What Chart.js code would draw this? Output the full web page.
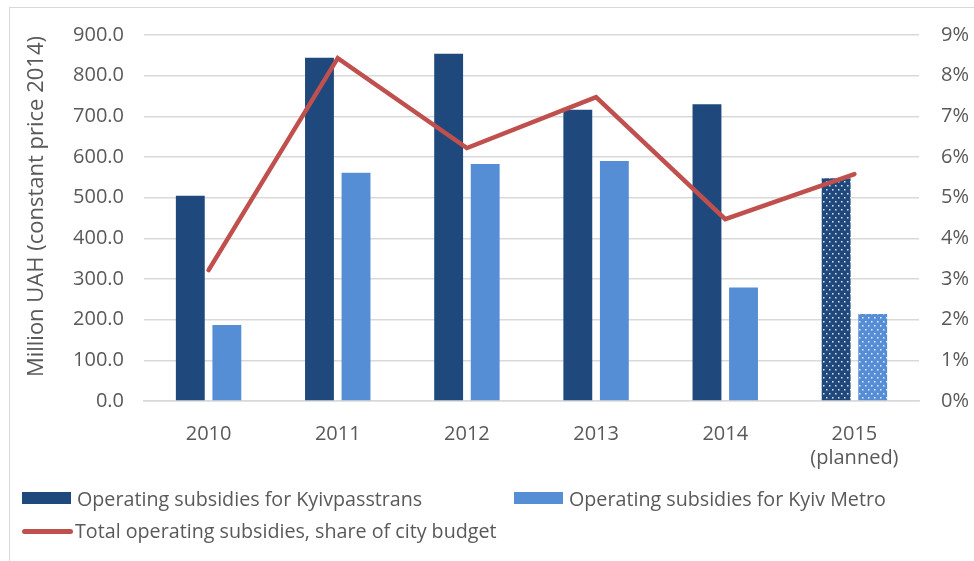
<!DOCTYPE html>
<html lang="en">

<head>
    <meta charset="UTF-8">
    <title>Kyiv operating subsidies</title>
    <style>
        html, body { margin: 0; padding: 0; background: #fff; overflow: hidden; }
        #wrap { position: relative; width: 974px; height: 561px; font-family: "Open Sans", sans-serif; color: #595959; }
        #frame { position: absolute; left: 9px; top: 7px; width: 1100px; height: 700px; border: 1.5px solid #d9d9d9; }
        #chartBox { position: absolute; left: 0; top: 0; width: 974px; height: 561px; }
        .lg { position: absolute; font-size: 19.7px; line-height: 24px; white-space: nowrap; }
        .sw { position: absolute; }
    </style>
</head>

<body>
    <div id="wrap">
        <div id="frame"></div>
        <div id="chartBox"><canvas id="chart"></canvas></div>
        <div id="legend"></div>
    </div>

<script src="https://cdn.jsdelivr.net/npm/chart.js@4/dist/chart.umd.min.js"></script>

<script>
    // data
    const years = ['2010', '2011', '2012', '2013', '2014', ['2015', '(planned)']];
    const kyivpasstrans = [505, 844, 854, 716, 730, 548];
    const kyivMetro = [187, 561, 583, 590, 279, 214];
    const budgetShare = [3.22, 8.43, 6.22, 7.47, 4.47, 5.58];   // %
    const leftTicks = { min: 0, max: 900, step: 100 };
    const rightTicks = { min: 0, max: 9, step: 1 };

    const NAVY = '#1f497d';
    const BLUE = '#558ed5';
    const RED = '#c0504d';
    const GREY_TXT = '#595959';
    const GRID = '#d9d9d9';

    // dotted fill for the planned year
    function dots(color) {
        const c = document.createElement('canvas');
        c.width = 6; c.height = 8;
        const g = c.getContext('2d');
        g.fillStyle = color;
        g.fillRect(0, 0, 6, 8);
        g.fillStyle = 'rgba(255,255,255,0.85)';
        g.fillRect(1, 1, 1.5, 1.5);
        g.fillRect(4, 5, 1.5, 1.5);
        return g.createPattern(c, 'repeat');
    }
    function fills(color) {
        return years.map((y, i) => i === years.length - 1 ? dots(color) : color);
    }

    const font = { family: '"Open Sans", sans-serif', size: 20 };

    let ctx = document.getElementById('chart');
    let data = {
        labels: years,
        datasets: [{
            type: 'line',
            label: 'Total operating subsidies, share of city budget',
            data: budgetShare,
            yAxisID: 'y1',
            borderColor: RED,
            backgroundColor: RED,
            borderWidth: 4.5,
            borderCapStyle: 'round',
            borderJoinStyle: 'miter',
            pointRadius: 0,
            tension: 0,
            order: 0
        }, {
            type: 'bar',
            label: 'Operating subsidies for Kyivpasstrans',
            data: kyivpasstrans,
            yAxisID: 'y',
            backgroundColor: fills(NAVY),
            categoryPercentage: 0.566,
            barPercentage: 0.79,
            order: 1
        }, {
            type: 'bar',
            label: 'Operating subsidies for Kyiv Metro',
            data: kyivMetro,
            yAxisID: 'y',
            backgroundColor: fills(BLUE),
            categoryPercentage: 0.566,
            barPercentage: 0.79,
            order: 2
        }]
    };

    var config = {
        data: data,
        options: {
            responsive: true,
            maintainAspectRatio: false,
            animation: false,
            layout: { padding: { top: 35, bottom: 80, left: 0, right: 0 } },
            plugins: { legend: { display: false }, tooltip: { enabled: false } },
            scales: {
                x: {
                    grid: { display: false },
                    border: { color: GRID, width: 1.5 },
                    ticks: { color: GREY_TXT, font: font, padding: 13, maxRotation: 0 },
                    afterFit: function (s) { s.height = 80; }
                },
                y: {
                    position: 'left',
                    min: leftTicks.min, max: leftTicks.max,
                    border: { display: false },
                    grid: { color: GRID, lineWidth: 1.5, drawTicks: false },
                    ticks: {
                        stepSize: leftTicks.step, color: GREY_TXT, font: font, padding: 20,
                        callback: v => v.toFixed(1)
                    },
                    title: {
                        display: true, text: '    Million UAH (constant price 2014)',
                        color: GREY_TXT, font: { family: font.family, size: 22 }, padding: { top: 24 }
                    },
                    afterFit: function (s) { s.width = 144; }
                },
                y1: {
                    position: 'right',
                    min: rightTicks.min, max: rightTicks.max,
                    border: { display: false },
                    grid: { display: false, drawTicks: false },
                    ticks: {
                        stepSize: rightTicks.step, color: GREY_TXT, font: font, padding: 22,
                        callback: v => v + '%'
                    },
                    afterFit: function (s) { s.width = 55; }
                }
            }
        }
    };
    var chart = new Chart(ctx, config);

    // legend, laid out like the original
    const legend = document.getElementById('legend');
    const slots = [
        { ds: 1, x: 22, y: 487, kind: 'box' },
        { ds: 2, x: 514, y: 487, kind: 'box' },
        { ds: 0, x: 22, y: 519, kind: 'line' }
    ];
    slots.forEach(function (s) {
        const d = data.datasets[s.ds];
        const sw = document.createElement('div');
        sw.className = 'sw';
        if (s.kind === 'box') {
            sw.style.cssText = 'left:' + s.x + 'px;top:' + (s.y + 5) + 'px;width:49px;height:12px;background:' + d.backgroundColor[0];
        } else {
            sw.style.cssText = 'left:' + s.x + 'px;top:' + (s.y + 10) + 'px;width:51px;height:4.5px;border-radius:3px;background:' + d.borderColor;
        }
        legend.appendChild(sw);
        const t = document.createElement('div');
        t.className = 'lg';
        t.style.left = (s.x + (s.kind === 'box' ? 55 : 53)) + 'px';
        t.style.top = s.y + 'px';
        t.textContent = d.label;
        legend.appendChild(t);
    });
</script>
</body>

</html>
